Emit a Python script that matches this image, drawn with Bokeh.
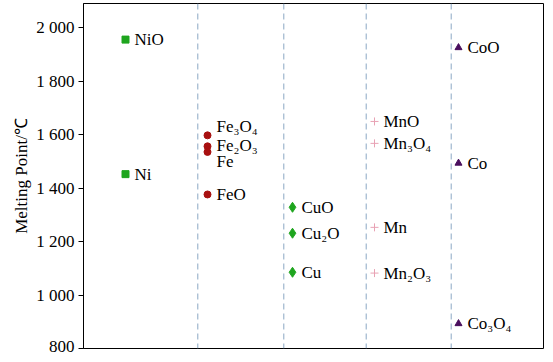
from bokeh.plotting import figure
from bokeh.models import ColumnDataSource, Span, CustomJSTickFormatter, FixedTicker, Range1d
from bokeh.core.properties import value
from bokeh.embed import file_html
from bokeh.resources import INLINE

# ---- data ----
ni_labels = ["NiO", "Ni"]
ni_values = [1955, 1452]
fe_labels = ["Fe₃O₄", "Fe₂O₃", "Fe", "FeO"]
fe_values = [1597, 1556, 1535, 1376]
cu_labels = ["CuO", "Cu₂O", "Cu"]
cu_values = [1328, 1231, 1085]
mn_labels = ["MnO", "Mn₃O₄", "Mn", "Mn₂O₃"]
mn_values = [1649, 1567, 1253, 1082]
co_labels = ["CoO", "Co", "Co₃O₄"]
co_values = [1925, 1493, 893]
y_ticks = [800, 1000, 1200, 1400, 1600, 1800, 2000]

# ---- layout (pixel-like x units) ----
group_x = {"Ni": 42, "Fe": 124, "Cu": 209, "Mn": 291, "Co": 375}
dividers = [114.3, 200.3, 282.7, 367.7]
fe_label_dy = [-9, -1, 10, 0]

FONT = "Liberation Serif"

p = figure(width=550, height=355, output_backend="svg", toolbar_location=None,
           x_range=Range1d(0, 460), y_range=Range1d(800, 2090),
           min_border_left=83, min_border_right=7, min_border_top=3, min_border_bottom=7)
p.background_fill_color = "white"
p.border_fill_color = "white"
p.outline_line_color = "black"
p.outline_line_width = 1
p.grid.visible = False
p.xaxis.visible = False

ya = p.yaxis[0]
ya.ticker = FixedTicker(ticks=y_ticks)
ya.formatter = CustomJSTickFormatter(code="""
const s = Math.round(tick).toString();
return s.length > 3 ? s.slice(0, s.length-3) + ' ' + s.slice(s.length-3) : s;
""")
ya.major_label_text_font = FONT
ya.major_label_text_font_size = "17px"
ya.major_label_text_color = "black"
ya.major_tick_out = 5
ya.major_tick_in = 0
ya.minor_tick_line_color = None
ya.axis_line_color = "black"
ya.major_tick_line_color = "black"
ya.axis_label = "Melting Point/℃"
ya.axis_label_text_font = FONT
ya.axis_label_text_font_style = "normal"
ya.axis_label_text_font_size = "17px"
ya.axis_label_text_color = "black"
ya.axis_label_standoff = 2
ya.major_label_standoff = 4

for d in dividers:
    p.add_layout(Span(location=d, dimension="height", line_color="#8aa7c4",
                      line_dash="6 4", line_width=1))

def group(key, labels, values, marker, color, size, dys=None):
    xs = [group_x[key]] * len(values)
    src = ColumnDataSource(dict(x=xs, y=values, t=labels,
                                dy=dys if dys else [0] * len(values)))
    p.scatter("x", "y", source=src, marker=marker, size=size,
              fill_color=color, line_color=color, line_width=1)
    p.text("x", "y", text="t", source=src, x_offset=9, y_offset="dy",
           text_font=value(FONT), text_font_size="17px", text_color="black",
           text_baseline="middle", text_align="left")

group("Ni", ni_labels, ni_values, "square", "#1ea51e", 7)
group("Fe", fe_labels, fe_values, "circle", "#a81010", 7, fe_label_dy)
group("Cu", cu_labels, cu_values, "diamond", "#1ea51e", 10)
group("Mn", mn_labels, mn_values, "cross", "#e8a2b4", 8)
group("Co", co_labels, co_values, "triangle", "#4a0f5e", 7)

open("out.html", "w").write(file_html(p, INLINE))
